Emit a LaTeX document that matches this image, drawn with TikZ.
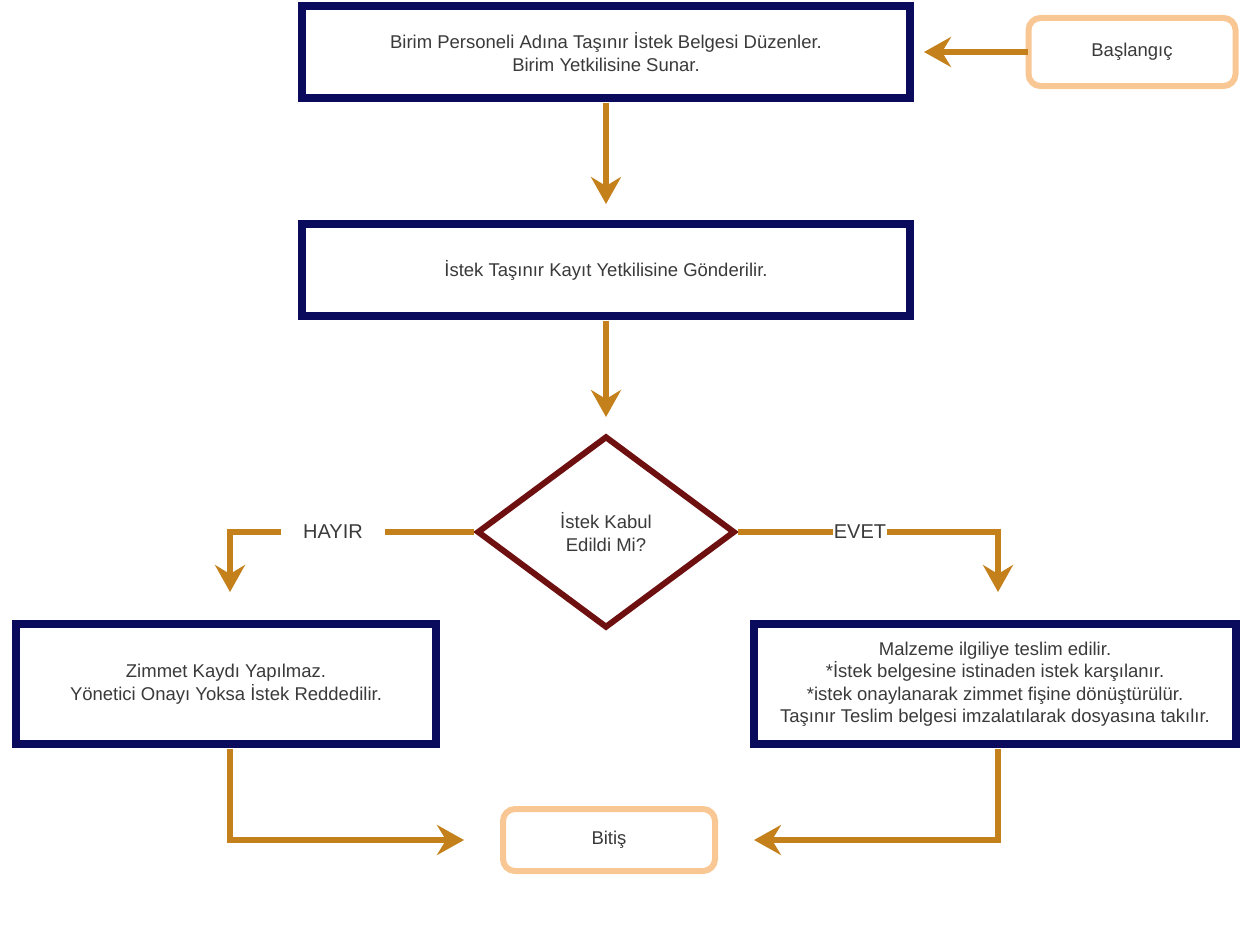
\documentclass[tikz,border=0pt]{standalone}
\usepackage{fontspec}
\setmainfont{Liberation Sans}
\usetikzlibrary{arrows.meta,shapes.geometric}
\definecolor{navy}{HTML}{0B0B5E}
\definecolor{arrowc}{HTML}{C4801A}
\definecolor{peach}{HTML}{F8C793}
\definecolor{darkred}{HTML}{6E1010}
\definecolor{txt}{HTML}{3A3A3A}
\tikzset{
  txtfont/.style={font=\fontsize{18.5}{22.5}\selectfont},
  procbox/.style={draw=navy, line width=8pt, fill=white, text=txt, align=center, inner sep=0pt, txtfont},
  termbox/.style={draw=peach, line width=6pt, rounded corners=12pt, fill=white, text=txt, inner sep=0pt, txtfont},
  decbox/.style={draw=darkred, line width=6pt, diamond, aspect=1.34, fill=white, text=txt, align=center, inner sep=0pt, txtfont},
  flow/.style={draw=arrowc, line width=5.5pt, -{Stealth[length=27pt,width=30pt,inset=9pt]}},
  flowline/.style={draw=arrowc, line width=5.5pt},
  lbl/.style={text=txt, font=\fontsize{20}{22}\selectfont, inner sep=0pt}
}
\begin{document}
\begin{tikzpicture}[x=1pt,y=-1pt]
\useasboundingbox (0,0) rectangle (1244,934);
\node[procbox, minimum width=608pt, minimum height=92pt] (b1) at (606,52) {Birim Personeli Adına Taşınır İstek Belgesi Düzenler.\\Birim Yetkilisine Sunar.};
\node[termbox, minimum width=207pt, minimum height=68pt] (start) at (1132,52) {Başlangıç};
\node[procbox, minimum width=608pt, minimum height=92pt] (b2) at (606,270) {İstek Taşınır Kayıt Yetkilisine Gönderilir.};
\node[decbox, minimum width=258pt, minimum height=192pt] (dec) at (606,532) {İstek Kabul\\Edildi Mi?};
\node[procbox, minimum width=420pt, minimum height=120pt] (no) at (226,684) {Zimmet Kaydı Yapılmaz.\\Yönetici Onayı Yoksa İstek Reddedilir.};
\node[procbox, minimum width=482pt, minimum height=120pt] (yes) at (995,684) {Malzeme ilgiliye teslim edilir.\\*İstek belgesine istinaden istek karşılanır.\\*istek onaylanarak zimmet fişine dönüştürülür.\\Taşınır Teslim belgesi imzalatılarak dosyasına takılır.};
\node[termbox, minimum width=212pt, minimum height=62pt] (end) at (609,840) {Bitiş};
\node[lbl] (hayir) at (333,532) {HAYIR};
\node[lbl] (evet) at (860,532) {EVET};
\coordinate (nl) at (230,532);
\coordinate (el) at (998,532);
\draw[flow] ([xshift=2pt]start.west) -- ([xshift=10pt]b1.east);
\draw[flow] ([yshift=-1pt]b1.south) -- ([yshift=16pt]b2.north);
\draw[flow] ([yshift=-1pt]b2.south) -- ([yshift=16pt]dec.north);
\draw[flowline] (dec.west) -- ([xshift=22pt]hayir.east);
\draw[flow] ([xshift=-22pt]hayir.west) -| ([yshift=28pt]nl |- no.north);
\draw[flowline] (dec.east) -- ([xshift=-1pt]evet.west);
\draw[flow] ([xshift=1pt]evet.east) -| ([yshift=28pt]el |- yes.north);
\draw[flow] ([yshift=-1pt]nl |- no.south) |- ([xshift=-36pt]end.west);
\draw[flow] ([yshift=-1pt]el |- yes.south) |- ([xshift=36pt]end.east);
\end{tikzpicture}
\end{document}
